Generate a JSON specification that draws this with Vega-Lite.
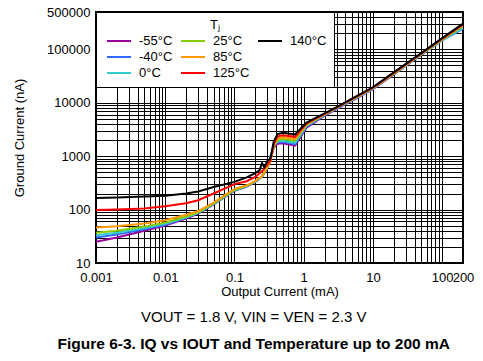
{
  "$schema": "https://vega.github.io/schema/vega-lite/v6.json",
  "width": 367,
  "height": 251,
  "autosize": {"type": "none"},
  "padding": {"left": 96, "top": 12, "right": 20, "bottom": 98},
  "background": "white",
  "config": {
    "font": "Liberation Sans",
    "view": {"stroke": "black", "strokeWidth": 2}
  },
  "title": {
    "text": "VOUT = 1.8 V, VIN = VEN = 2.3 V",
    "subtitle": "Figure 6-3. IQ vs IOUT and Temperature up to 200 mA",
    "orient": "bottom",
    "anchor": "middle",
    "frame": "bounds",
    "dx": 10,
    "font": "Liberation Sans",
    "fontSize": 15,
    "fontWeight": "normal",
    "color": "black",
    "subtitleFont": "Liberation Sans",
    "subtitleFontSize": 15.5,
    "subtitleFontWeight": "bold",
    "subtitleColor": "black",
    "subtitlePadding": 12,
    "offset": 12
  },
  "data": {
    "values": [
      {"I": 0.001, "IQ": 25, "T": "-55°C"},
      {"I": 0.002, "IQ": 30, "T": "-55°C"},
      {"I": 0.005, "IQ": 40, "T": "-55°C"},
      {"I": 0.01, "IQ": 50, "T": "-55°C"},
      {"I": 0.02, "IQ": 68, "T": "-55°C"},
      {"I": 0.03, "IQ": 84, "T": "-55°C"},
      {"I": 0.05, "IQ": 125, "T": "-55°C"},
      {"I": 0.1, "IQ": 225, "T": "-55°C"},
      {"I": 0.15, "IQ": 270, "T": "-55°C"},
      {"I": 0.2, "IQ": 330, "T": "-55°C"},
      {"I": 0.25, "IQ": 410, "T": "-55°C"},
      {"I": 0.3, "IQ": 600, "T": "-55°C"},
      {"I": 0.33, "IQ": 850, "T": "-55°C"},
      {"I": 0.37, "IQ": 1450, "T": "-55°C"},
      {"I": 0.42, "IQ": 1700, "T": "-55°C"},
      {"I": 0.5, "IQ": 1750, "T": "-55°C"},
      {"I": 0.75, "IQ": 1570, "T": "-55°C"},
      {"I": 1.1, "IQ": 3400, "T": "-55°C"},
      {"I": 2, "IQ": 5700, "T": "-55°C"},
      {"I": 3, "IQ": 7700, "T": "-55°C"},
      {"I": 5, "IQ": 11000, "T": "-55°C"},
      {"I": 10, "IQ": 18000, "T": "-55°C"},
      {"I": 20, "IQ": 34000, "T": "-55°C"},
      {"I": 50, "IQ": 79000, "T": "-55°C"},
      {"I": 100, "IQ": 148000, "T": "-55°C"},
      {"I": 200, "IQ": 262000, "T": "-55°C"},

      {"I": 0.001, "IQ": 30, "T": "-40°C"},
      {"I": 0.002, "IQ": 34, "T": "-40°C"},
      {"I": 0.005, "IQ": 43, "T": "-40°C"},
      {"I": 0.01, "IQ": 52, "T": "-40°C"},
      {"I": 0.02, "IQ": 70, "T": "-40°C"},
      {"I": 0.03, "IQ": 86, "T": "-40°C"},
      {"I": 0.05, "IQ": 127, "T": "-40°C"},
      {"I": 0.1, "IQ": 228, "T": "-40°C"},
      {"I": 0.15, "IQ": 272, "T": "-40°C"},
      {"I": 0.2, "IQ": 333, "T": "-40°C"},
      {"I": 0.25, "IQ": 413, "T": "-40°C"},
      {"I": 0.3, "IQ": 620, "T": "-40°C"},
      {"I": 0.33, "IQ": 950, "T": "-40°C"},
      {"I": 0.37, "IQ": 1550, "T": "-40°C"},
      {"I": 0.42, "IQ": 1800, "T": "-40°C"},
      {"I": 0.5, "IQ": 1850, "T": "-40°C"},
      {"I": 0.75, "IQ": 1680, "T": "-40°C"},
      {"I": 1.1, "IQ": 3550, "T": "-40°C"},
      {"I": 2, "IQ": 5800, "T": "-40°C"},
      {"I": 3, "IQ": 7800, "T": "-40°C"},
      {"I": 5, "IQ": 11100, "T": "-40°C"},
      {"I": 10, "IQ": 18200, "T": "-40°C"},
      {"I": 20, "IQ": 34300, "T": "-40°C"},
      {"I": 50, "IQ": 79500, "T": "-40°C"},
      {"I": 100, "IQ": 147000, "T": "-40°C"},
      {"I": 200, "IQ": 242000, "T": "-40°C"},

      {"I": 0.001, "IQ": 33, "T": "0°C"},
      {"I": 0.002, "IQ": 37, "T": "0°C"},
      {"I": 0.005, "IQ": 45, "T": "0°C"},
      {"I": 0.01, "IQ": 54, "T": "0°C"},
      {"I": 0.02, "IQ": 71, "T": "0°C"},
      {"I": 0.03, "IQ": 87, "T": "0°C"},
      {"I": 0.05, "IQ": 128, "T": "0°C"},
      {"I": 0.1, "IQ": 230, "T": "0°C"},
      {"I": 0.15, "IQ": 275, "T": "0°C"},
      {"I": 0.2, "IQ": 336, "T": "0°C"},
      {"I": 0.25, "IQ": 416, "T": "0°C"},
      {"I": 0.3, "IQ": 620, "T": "0°C"},
      {"I": 0.33, "IQ": 900, "T": "0°C"},
      {"I": 0.37, "IQ": 1600, "T": "0°C"},
      {"I": 0.42, "IQ": 1900, "T": "0°C"},
      {"I": 0.5, "IQ": 1950, "T": "0°C"},
      {"I": 0.75, "IQ": 1780, "T": "0°C"},
      {"I": 1.1, "IQ": 3700, "T": "0°C"},
      {"I": 2, "IQ": 5900, "T": "0°C"},
      {"I": 3, "IQ": 7900, "T": "0°C"},
      {"I": 5, "IQ": 11300, "T": "0°C"},
      {"I": 10, "IQ": 18400, "T": "0°C"},
      {"I": 20, "IQ": 34600, "T": "0°C"},
      {"I": 50, "IQ": 80000, "T": "0°C"},
      {"I": 100, "IQ": 149000, "T": "0°C"},
      {"I": 200, "IQ": 250000, "T": "0°C"},

      {"I": 0.001, "IQ": 37, "T": "25°C"},
      {"I": 0.002, "IQ": 40, "T": "25°C"},
      {"I": 0.005, "IQ": 48, "T": "25°C"},
      {"I": 0.01, "IQ": 57, "T": "25°C"},
      {"I": 0.02, "IQ": 74, "T": "25°C"},
      {"I": 0.03, "IQ": 89, "T": "25°C"},
      {"I": 0.05, "IQ": 130, "T": "25°C"},
      {"I": 0.1, "IQ": 235, "T": "25°C"},
      {"I": 0.15, "IQ": 278, "T": "25°C"},
      {"I": 0.2, "IQ": 340, "T": "25°C"},
      {"I": 0.25, "IQ": 420, "T": "25°C"},
      {"I": 0.3, "IQ": 620, "T": "25°C"},
      {"I": 0.33, "IQ": 800, "T": "25°C"},
      {"I": 0.37, "IQ": 1550, "T": "25°C"},
      {"I": 0.42, "IQ": 2000, "T": "25°C"},
      {"I": 0.5, "IQ": 2100, "T": "25°C"},
      {"I": 0.75, "IQ": 1950, "T": "25°C"},
      {"I": 1.1, "IQ": 3850, "T": "25°C"},
      {"I": 2, "IQ": 6000, "T": "25°C"},
      {"I": 3, "IQ": 8000, "T": "25°C"},
      {"I": 5, "IQ": 11500, "T": "25°C"},
      {"I": 10, "IQ": 18700, "T": "25°C"},
      {"I": 20, "IQ": 35000, "T": "25°C"},
      {"I": 50, "IQ": 81000, "T": "25°C"},
      {"I": 100, "IQ": 152000, "T": "25°C"},
      {"I": 200, "IQ": 272000, "T": "25°C"},

      {"I": 0.001, "IQ": 46, "T": "85°C"},
      {"I": 0.002, "IQ": 49, "T": "85°C"},
      {"I": 0.005, "IQ": 55, "T": "85°C"},
      {"I": 0.01, "IQ": 63, "T": "85°C"},
      {"I": 0.02, "IQ": 80, "T": "85°C"},
      {"I": 0.03, "IQ": 94, "T": "85°C"},
      {"I": 0.05, "IQ": 135, "T": "85°C"},
      {"I": 0.1, "IQ": 245, "T": "85°C"},
      {"I": 0.15, "IQ": 285, "T": "85°C"},
      {"I": 0.2, "IQ": 345, "T": "85°C"},
      {"I": 0.25, "IQ": 425, "T": "85°C"},
      {"I": 0.3, "IQ": 640, "T": "85°C"},
      {"I": 0.33, "IQ": 780, "T": "85°C"},
      {"I": 0.37, "IQ": 1600, "T": "85°C"},
      {"I": 0.42, "IQ": 2150, "T": "85°C"},
      {"I": 0.5, "IQ": 2250, "T": "85°C"},
      {"I": 0.75, "IQ": 2100, "T": "85°C"},
      {"I": 1.1, "IQ": 3950, "T": "85°C"},
      {"I": 2, "IQ": 6100, "T": "85°C"},
      {"I": 3, "IQ": 8100, "T": "85°C"},
      {"I": 5, "IQ": 11600, "T": "85°C"},
      {"I": 10, "IQ": 18900, "T": "85°C"},
      {"I": 20, "IQ": 35500, "T": "85°C"},
      {"I": 50, "IQ": 82000, "T": "85°C"},
      {"I": 100, "IQ": 155000, "T": "85°C"},
      {"I": 200, "IQ": 282000, "T": "85°C"},

      {"I": 0.001, "IQ": 98, "T": "125°C"},
      {"I": 0.002, "IQ": 100, "T": "125°C"},
      {"I": 0.005, "IQ": 105, "T": "125°C"},
      {"I": 0.01, "IQ": 116, "T": "125°C"},
      {"I": 0.02, "IQ": 132, "T": "125°C"},
      {"I": 0.03, "IQ": 150, "T": "125°C"},
      {"I": 0.05, "IQ": 200, "T": "125°C"},
      {"I": 0.1, "IQ": 300, "T": "125°C"},
      {"I": 0.15, "IQ": 340, "T": "125°C"},
      {"I": 0.2, "IQ": 410, "T": "125°C"},
      {"I": 0.25, "IQ": 520, "T": "125°C"},
      {"I": 0.3, "IQ": 700, "T": "125°C"},
      {"I": 0.33, "IQ": 820, "T": "125°C"},
      {"I": 0.37, "IQ": 1700, "T": "125°C"},
      {"I": 0.42, "IQ": 2350, "T": "125°C"},
      {"I": 0.5, "IQ": 2450, "T": "125°C"},
      {"I": 0.75, "IQ": 2300, "T": "125°C"},
      {"I": 1.1, "IQ": 4100, "T": "125°C"},
      {"I": 2, "IQ": 6200, "T": "125°C"},
      {"I": 3, "IQ": 8200, "T": "125°C"},
      {"I": 5, "IQ": 11800, "T": "125°C"},
      {"I": 10, "IQ": 19200, "T": "125°C"},
      {"I": 20, "IQ": 36200, "T": "125°C"},
      {"I": 50, "IQ": 83500, "T": "125°C"},
      {"I": 100, "IQ": 158000, "T": "125°C"},
      {"I": 200, "IQ": 292000, "T": "125°C"},

      {"I": 0.001, "IQ": 165, "T": "140°C"},
      {"I": 0.002, "IQ": 168, "T": "140°C"},
      {"I": 0.005, "IQ": 175, "T": "140°C"},
      {"I": 0.01, "IQ": 182, "T": "140°C"},
      {"I": 0.02, "IQ": 200, "T": "140°C"},
      {"I": 0.03, "IQ": 218, "T": "140°C"},
      {"I": 0.05, "IQ": 265, "T": "140°C"},
      {"I": 0.1, "IQ": 330, "T": "140°C"},
      {"I": 0.15, "IQ": 400, "T": "140°C"},
      {"I": 0.2, "IQ": 480, "T": "140°C"},
      {"I": 0.23, "IQ": 540, "T": "140°C"},
      {"I": 0.25, "IQ": 740, "T": "140°C"},
      {"I": 0.27, "IQ": 620, "T": "140°C"},
      {"I": 0.3, "IQ": 820, "T": "140°C"},
      {"I": 0.33, "IQ": 900, "T": "140°C"},
      {"I": 0.37, "IQ": 1900, "T": "140°C"},
      {"I": 0.42, "IQ": 2600, "T": "140°C"},
      {"I": 0.5, "IQ": 2750, "T": "140°C"},
      {"I": 0.75, "IQ": 2550, "T": "140°C"},
      {"I": 1.1, "IQ": 4250, "T": "140°C"},
      {"I": 2, "IQ": 6300, "T": "140°C"},
      {"I": 3, "IQ": 8300, "T": "140°C"},
      {"I": 5, "IQ": 11900, "T": "140°C"},
      {"I": 10, "IQ": 19500, "T": "140°C"},
      {"I": 20, "IQ": 37000, "T": "140°C"},
      {"I": 50, "IQ": 85000, "T": "140°C"},
      {"I": 100, "IQ": 162000, "T": "140°C"},
      {"I": 200, "IQ": 302000, "T": "140°C"}
    ]
  },
  "mark": {"type": "line", "strokeWidth": 2, "clip": true},
  "encoding": {
    "x": {
      "field": "I",
      "type": "quantitative",
      "scale": {"type": "log", "domain": [0.001, 200], "nice": false},
      "axis": {
        "title": "Output Current (mA)",
        "titleFontSize": 13,
        "titleFontWeight": "normal",
        "titleColor": "black",
        "titlePadding": 1,
        "labelFontSize": 13,
        "labelColor": "black",
        "labelPadding": 8,
        "labelOverlap": false,
        "labelFlush": false,
        "ticks": false,
        "domain": false,
        "grid": true,
        "gridColor": "black",
        "gridWidth": 1,
        "gridOpacity": 1,
        "values": [0.001, 0.002, 0.003, 0.004, 0.005, 0.006, 0.007, 0.008, 0.009, 0.01, 0.02, 0.03, 0.04, 0.05, 0.06, 0.07, 0.08, 0.09, 0.1, 0.2, 0.3, 0.4, 0.5, 0.6, 0.7, 0.8, 0.9, 1, 2, 3, 4, 5, 6, 7, 8, 9, 10, 20, 30, 40, 50, 60, 70, 80, 90, 100, 200],
        "labelExpr": "indexof([0.001, 0.01, 0.1, 1, 10, 100, 200], datum.value) >= 0 ? format(datum.value, '~g') : ''"
      }
    },
    "y": {
      "field": "IQ",
      "type": "quantitative",
      "scale": {"type": "log", "domain": [10, 500000], "nice": false},
      "axis": {
        "title": "Ground Current (nA)",
        "titleFontSize": 13,
        "titleFontWeight": "normal",
        "titleColor": "black",
        "titlePadding": 20,
        "labelFontSize": 13,
        "labelColor": "black",
        "labelPadding": 6,
        "labelOverlap": false,
        "labelFlush": false,
        "ticks": false,
        "domain": false,
        "grid": true,
        "gridColor": "black",
        "gridWidth": 1,
        "gridOpacity": 1,
        "values": [10, 20, 30, 40, 50, 60, 70, 80, 90, 100, 200, 300, 400, 500, 600, 700, 800, 900, 1000, 2000, 3000, 4000, 5000, 6000, 7000, 8000, 9000, 10000, 20000, 30000, 40000, 50000, 60000, 70000, 80000, 90000, 100000, 200000, 300000, 400000, 500000],
        "labelExpr": "indexof([10, 100, 1000, 10000, 100000, 500000], datum.value) >= 0 ? format(datum.value, '~g') : ''"
      }
    },
    "color": {
      "field": "T",
      "type": "nominal",
      "sort": null,
      "scale": {
        "domain": ["-55°C", "-40°C", "0°C", "25°C", "85°C", "125°C", "140°C", ""],
        "range": ["#990099", "#3366FF", "#33CCCC", "#88CC00", "#FF9900", "#FF0000", "#000000", "transparent"]
      },
      "legend": {
        "orient": "top-left",
        "offset": 0,
        "columns": 3,
        "title": "Tⱼ",
        "titleAnchor": "middle",
        "titleFontSize": 13,
        "titleFontWeight": "normal",
        "titleColor": "black",
        "titlePadding": 2,
        "labelFontSize": 13,
        "labelColor": "black",
        "symbolType": "M-2,0H2",
        "symbolSize": 144,
        "symbolStrokeWidth": 2,
        "symbolOffset": 9,
        "labelOffset": 13,
        "fillColor": "white",
        "strokeColor": "black",
        "padding": 7,
        "columnPadding": 4,
        "rowPadding": 2
      }
    }
  }
}
